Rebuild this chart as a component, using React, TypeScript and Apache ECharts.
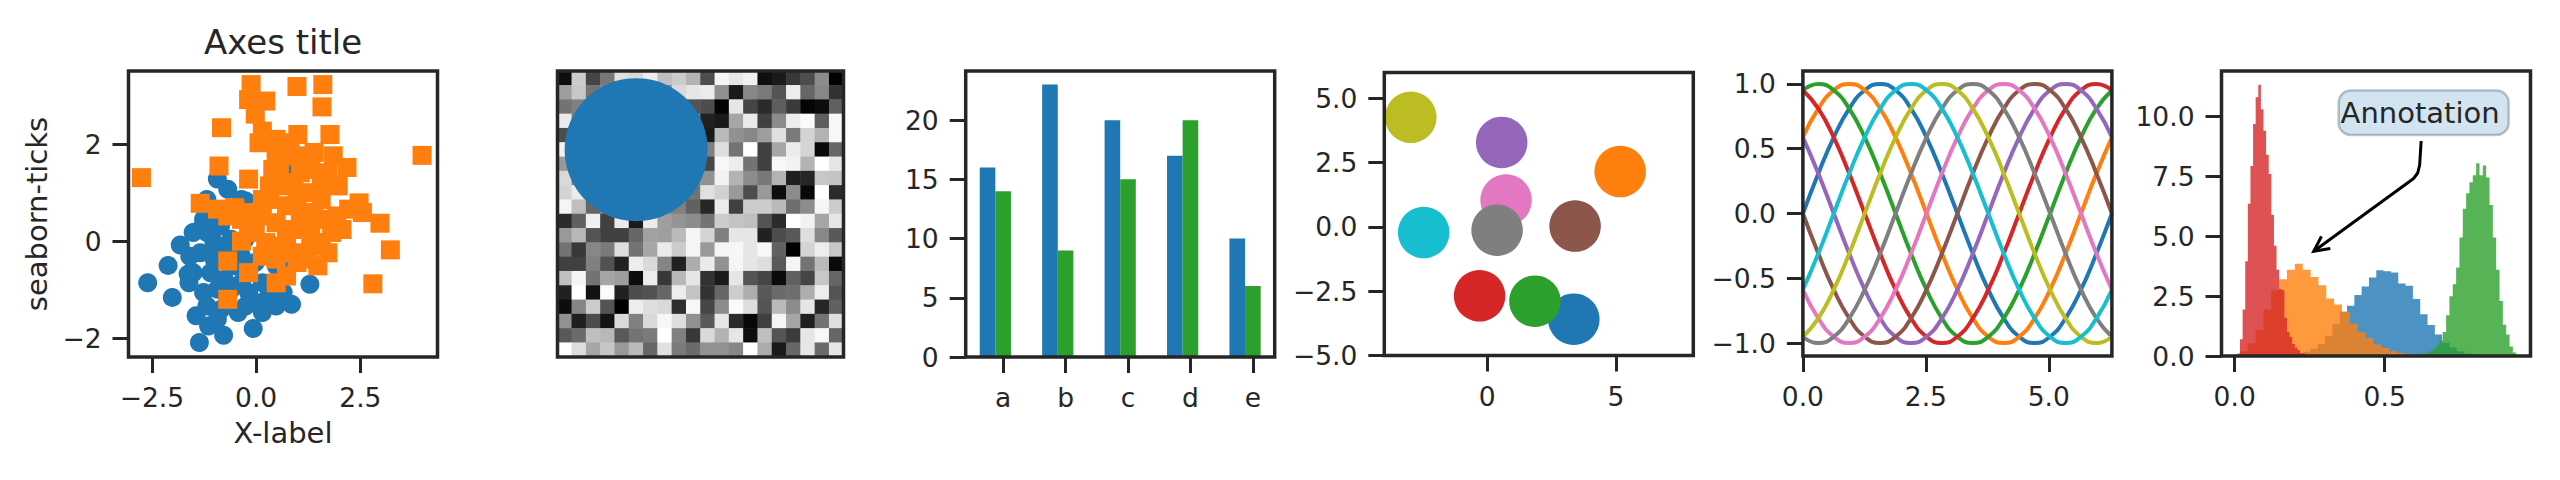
import * as echarts from 'echarts';
import { useEffect, useRef } from 'react';

const FONT = 'DejaVu Sans';
const INK = '#262626';
const TAB10 = ['#1f77b4', '#ff7f0e', '#2ca02c', '#d62728', '#9467bd', '#8c564b', '#e377c2', '#7f7f7f', '#bcbd22', '#17becf'];

// panel 1 - scatter
const blueDots: [number, number][] = [
  [-2.6, -0.85], [-2.11, -0.49], [-2.01, -1.15], [-1.82, -0.07], [-1.61, -0.85], [-1.44, -1.53],
  [-1.36, -2.08], [-1.14, -1.74], [-0.78, -1.93], [-0.07, -1.79], [-1.18, -1.33], [-0.93, 1.29],
  [-0.68, 1.08], [-0.25, 0.84], [-1.26, 0.46], [-1.51, 0.19], [-1.34, -0.23], [-1.01, -0.02],
  [-0.85, 0.32], [0.81, 1.53], [1.29, -0.88], [0.85, -1.29], [0.48, -1.33], [0.07, -1.26],
  [-0.25, -1.33], [-0.68, -1.19], [-0.93, -0.98], [-0.35, -0.85], [0.15, -0.85], [0.65, -1.05],
  [-0.51, -0.5], [-0.02, -0.43], [0.48, -0.5], [-1.51, -0.64], [-1.09, -0.64], [-0.76, -0.23],
  [-0.35, -0.3], [-0.27, 0.05], [-0.02, 0.46], [-0.51, 0.53], [-1.18, 0.87], [-1.63, -0.67],
  [-1.26, -1.05], [-0.85, -1.4], [-0.43, -1.46], [-1.01, -0.36], [-0.6, 0.05], [-0.18, -1.05],
  [0.32, -1.05], [-0.76, -0.78], [-1.18, 0.19], [-1.59, -0.3], [-0.35, 0.87], [-0.93, -1.6],
  [0.15, -1.46], [0.65, -0.57], [-0.18, 0.6], [-0.6, -0.98], [-1.34, 0.25], [-1.01, 0.39],
];
const orangeSquares: [number, number][] = [
  [-0.12, 3.24], [-0.18, 2.93], [0.23, 2.9], [-0.02, 2.63], [0.98, 3.2], [1.6, 3.24], [1.58, 2.78],
  [-0.83, 2.35], [0.15, 2.28], [0.07, 2.04], [1.0, 2.21], [1.77, 2.21], [0.81, 2.04], [3.98, 1.78],
  [-2.75, 1.32], [-0.89, 1.56], [2.18, 1.53], [1.85, 1.77], [1.39, 1.84], [0.48, 1.84], [-0.18, 1.29],
  [0.56, 1.49], [1.72, 1.42], [1.31, 1.49], [0.32, 1.15], [0.9, 1.22], [1.23, 1.01], [1.56, 0.87],
  [2.47, 0.8], [2.22, 0.67], [1.93, 0.53], [1.81, 0.19], [2.97, 0.38], [3.22, -0.17], [2.8, -0.87],
  [-1.34, 0.79], [-0.93, 0.67], [-0.51, 0.7], [-0.27, 0.6], [0.32, 0.87], [0.73, 0.74], [1.06, 0.53],
  [-0.02, 0.32], [0.48, 0.39], [1.31, 0.25], [1.56, -0.02], [-0.35, 0.01], [0.23, -0.02], [0.73, 0.05],
  [-0.68, -0.4], [-0.18, -0.64], [-0.68, -1.19], [0.48, -0.85], [0.73, -0.71], [0.98, -0.43],
  [1.48, -0.5], [1.23, -0.36], [0.48, -0.36], [0.15, -0.3], [0.9, -0.23], [1.14, 0.25], [0.15, 0.87],
  [0.65, 1.15], [1.06, 1.42], [0.4, 1.49], [1.39, 0.6], [0.98, 0.87], [1.64, 0.46], [2.06, 0.25],
  [-0.35, 0.46], [-0.68, 0.53], [0.73, 1.77], [1.14, 1.77], [0.48, 2.11], [1.56, 1.22], [1.97, 1.15],
  [2.55, 0.6], [0.15, 0.53], [-0.18, 0.19], [0.9, 0.25], [1.72, -0.23], [1.31, -0.09], [0.56, -0.09],
];

// panel 2 - grey image, 0 = black .. 1 = white, top row first
const pixels: number[][] = [
  [0.05, 0.8, 0.27, 0.47, 0.88, 0.85, 0.93, 0.75, 0.8, 0.7, 0.3, 0.96, 0.9, 0.94, 0.06, 0.1, 0.22, 0.3, 0.55, 0.0],
  [0.62, 0.78, 0.45, 0.5, 0.5, 0.5, 0.5, 0.5, 0.85, 0.9, 0.92, 0.56, 0.1, 0.53, 0.48, 0.33, 0.93, 0.4, 0.53, 0.2],
  [0.45, 0.5, 0.5, 0.5, 0.5, 0.5, 0.5, 0.5, 0.5, 0.33, 0.3, 0.02, 0.9, 0.27, 0.17, 0.37, 0.23, 0.02, 0.05, 0.38],
  [0.92, 0.5, 0.5, 0.5, 0.5, 0.5, 0.5, 0.5, 0.5, 0.5, 0.13, 0.1, 0.65, 0.92, 0.25, 0.55, 0.93, 0.98, 0.37, 0.97],
  [0.3, 0.5, 0.5, 0.5, 0.5, 0.5, 0.5, 0.5, 0.5, 0.5, 0.1, 0.73, 0.57, 0.53, 0.62, 0.88, 0.48, 0.83, 0.7, 0.97],
  [0.95, 0.5, 0.5, 0.5, 0.5, 0.5, 0.5, 0.5, 0.5, 0.5, 0.5, 0.87, 0.45, 1.0, 0.25, 0.65, 0.92, 0.83, 0.03, 0.4],
  [0.6, 0.5, 0.5, 0.5, 0.5, 0.5, 0.5, 0.5, 0.5, 0.5, 0.28, 0.97, 0.93, 0.45, 0.25, 0.97, 0.95, 0.7, 1.0, 0.9],
  [0.85, 0.5, 0.5, 0.5, 0.5, 0.5, 0.5, 0.5, 0.5, 0.5, 0.57, 0.95, 0.7, 0.55, 0.47, 0.7, 0.12, 0.15, 0.78, 0.77],
  [0.83, 0.92, 0.5, 0.5, 0.5, 0.5, 0.5, 0.5, 0.5, 0.45, 0.88, 0.82, 0.6, 0.3, 0.6, 0.05, 0.55, 0.03, 1.0, 0.17],
  [0.96, 0.75, 0.4, 0.5, 0.5, 0.5, 0.5, 0.5, 0.5, 0.38, 0.15, 0.92, 0.25, 0.8, 0.8, 0.73, 0.43, 0.55, 0.96, 0.8],
  [0.17, 0.38, 0.94, 0.25, 0.92, 0.1, 0.92, 0.62, 0.58, 0.55, 0.45, 0.8, 0.77, 0.75, 0.33, 0.17, 1.0, 0.95, 0.65, 0.9],
  [0.6, 0.72, 0.33, 0.25, 0.25, 0.4, 0.63, 0.62, 0.73, 0.96, 0.83, 0.5, 0.9, 0.9, 0.13, 0.3, 0.35, 0.87, 0.53, 0.35],
  [0.45, 0.22, 0.53, 0.48, 0.87, 0.45, 0.65, 0.92, 0.8, 0.96, 0.6, 0.96, 0.97, 0.9, 0.97, 0.38, 0.0, 0.83, 0.93, 0.78],
  [0.25, 0.25, 0.5, 0.32, 0.13, 0.93, 0.85, 0.52, 0.13, 0.68, 0.92, 0.57, 0.96, 0.9, 0.87, 0.35, 0.96, 0.45, 0.73, 0.04],
  [0.75, 0.96, 0.45, 0.65, 0.62, 0.05, 0.93, 0.22, 0.72, 0.9, 0.2, 0.1, 0.9, 0.33, 0.27, 0.04, 0.38, 0.27, 0.78, 0.4],
  [0.13, 1.0, 0.07, 0.99, 0.13, 0.3, 0.32, 0.4, 0.93, 0.77, 0.2, 0.4, 0.8, 0.68, 0.35, 0.42, 0.43, 0.68, 0.93, 0.33],
  [0.05, 0.52, 0.8, 0.33, 0.0, 0.93, 0.87, 0.85, 0.18, 0.97, 0.28, 0.55, 0.98, 0.87, 0.33, 0.73, 0.55, 0.9, 0.15, 0.38],
  [0.57, 0.12, 0.3, 0.07, 0.85, 0.5, 0.85, 0.97, 0.87, 0.57, 0.35, 0.9, 0.17, 0.03, 0.25, 0.96, 0.65, 0.12, 0.45, 0.88],
  [0.35, 0.42, 0.75, 0.72, 0.35, 0.45, 0.48, 1.0, 0.5, 0.22, 0.85, 0.7, 0.9, 0.05, 0.75, 0.33, 0.23, 0.9, 0.97, 0.4],
  [1.0, 0.87, 0.65, 0.78, 0.6, 0.73, 0.4, 0.88, 0.48, 0.42, 0.57, 0.57, 0.53, 1.0, 0.67, 0.1, 0.4, 0.9, 0.42, 0.9],
];
const imageCircle = [5, 5];
const imageCircleRadius = 5;

// panel 3 - grouped bars
const barLabels = ['a', 'b', 'c', 'd', 'e'];
const barPos = [0, 1, 2, 3, 4];
const barWidthUnits = 0.25;
const barsBlue = [16, 23, 20, 17, 10];
const barsGreen = [14, 9, 15, 20, 6];

// panel 4 - coloured discs (radius 1), colour-cycle order
const discCenters: [number, number][] = [
  [3.36, -3.59], [5.16, 2.15], [1.85, -2.89], [-0.3, -2.68], [0.56, 3.28],
  [3.41, 0.03], [0.73, 1.04], [0.38, -0.13], [-2.97, 4.26], [-2.47, -0.22],
];
const discRadius = 1;

// panel 5 - shifted sines
const sineX = [0, 0.314, 0.628, 0.942, 1.257, 1.571, 1.885, 2.199, 2.513, 2.827, 3.142,
  3.456, 3.77, 4.084, 4.398, 4.712, 5.027, 5.341, 5.655, 5.969, 6.283];
const sineY: number[][] = [
  [0, .309, .588, .809, .951, 1, .951, .809, .588, .309, 0, -.309, -.588, -.809, -.951, -1, -.951, -.809, -.588, -.309, 0],
  [.588, .809, .951, 1, .951, .809, .588, .309, 0, -.309, -.588, -.809, -.951, -1, -.951, -.809, -.588, -.309, 0, .309, .588],
  [.951, 1, .951, .809, .588, .309, 0, -.309, -.588, -.809, -.951, -1, -.951, -.809, -.588, -.309, 0, .309, .588, .809, .951],
  [.951, .809, .588, .309, 0, -.309, -.588, -.809, -.951, -1, -.951, -.809, -.588, -.309, 0, .309, .588, .809, .951, 1, .951],
  [.588, .309, 0, -.309, -.588, -.809, -.951, -1, -.951, -.809, -.588, -.309, 0, .309, .588, .809, .951, 1, .951, .809, .588],
  [0, -.309, -.588, -.809, -.951, -1, -.951, -.809, -.588, -.309, 0, .309, .588, .809, .951, 1, .951, .809, .588, .309, 0],
  [-.588, -.809, -.951, -1, -.951, -.809, -.588, -.309, 0, .309, .588, .809, .951, 1, .951, .809, .588, .309, 0, -.309, -.588],
  [-.951, -1, -.951, -.809, -.588, -.309, 0, .309, .588, .809, .951, 1, .951, .809, .588, .309, 0, -.309, -.588, -.809, -.951],
  [-.951, -.809, -.588, -.309, 0, .309, .588, .809, .951, 1, .951, .809, .588, .309, 0, -.309, -.588, -.809, -.951, -1, -.951],
  [-.588, -.309, 0, .309, .588, .809, .951, 1, .951, .809, .588, .309, 0, -.309, -.588, -.809, -.951, -1, -.951, -.809, -.588],
];

// panel 6 - histograms (density), drawn in this order: blue, orange, green, red
const histStart = [0.1304, 0.0171, 0.6045, 0.0003];
const histBin = [0.0244, 0.0262, 0.01113, 0.0087];
const histBlue = [0.01, 0.02, 0.05, 0.1, 0.18, 0.3, 0.5, 0.85, 1.35, 1.85, 2.1, 2.55, 2.9, 3.28, 3.58,
  3.54, 3.49, 3.03, 2.93, 2.38, 1.74, 1.29, 0.9, 0.55, 0.35, 0.2, 0.1, 0.06, 0.03, 0.01];
const histOrange = [0.2, 0.53, 1.1, 1.94, 2.75, 3.2, 3.6, 3.85, 3.6, 3.3, 2.95, 2.4, 2.15, 1.85, 1.35,
  1.0, 0.75, 0.48, 0.33, 0.2, 0.13, 0.08, 0.05, 0.03, 0.02, 0.01, 0.01, 0.005, 0.003, 0.003];
const histGreen = [0.03, 0.05, 0.1, 0.15, 0.2, 0.3, 0.45, 0.65, 1.0, 1.7, 2.5, 3.0, 3.7, 4.95, 6.15,
  6.8, 7.25, 7.55, 8.05, 7.55, 7.95, 7.45, 6.3, 4.95, 3.6, 2.3, 1.3, 0.9, 0.4, 0.15];
const histRed = [0.02, 0.1, 0.7, 1.94, 3.96, 6.36, 7.93, 9.69, 10.8, 11.33, 10.3, 9.4, 8.4, 7.6, 5.9,
  4.6, 3.6, 2.8, 2.75, 1.6, 1.0, 0.8, 0.5, 0.35, 0.25, 0.12, 0.1, 0.06, 0.03, 0.01];
const histColors = [TAB10[0], TAB10[1], TAB10[2], TAB10[3]];
const annotationXY = [0.25, 4.25];

// layout (px)
const grids = [
  { left: 128.5, top: 71, width: 309, height: 286 },
  { left: 557.5, top: 71, width: 286, height: 286 },
  { left: 965.7, top: 71, width: 309, height: 286 },
  { left: 1384.3, top: 72.5, width: 309, height: 283 },
  { left: 1802.9, top: 71, width: 309, height: 285 },
  { left: 2221.5, top: 71, width: 309, height: 285 },
];

const fmt = (d: number) => (v: number) => v.toFixed(d).replace('-', '\u2212');

function valueAxis(gridIndex: number, min: number, max: number, ticks: number[], formatter: any, extra: any = {}) {
  return {
    type: 'value',
    gridIndex,
    min,
    max,
    z: 5,
    axisLine: { show: false, onZero: false },
    splitLine: { show: false },
    axisTick: { show: true, length: 16, customValues: ticks, lineStyle: { color: INK, width: 3 } },
    axisLabel: { customValues: ticks, formatter, color: INK, fontSize: 26.5, fontFamily: FONT, margin: 27 },
    ...extra,
  };
}

function hiddenCategory(gridIndex: number, n: number, extra: any = {}) {
  return {
    type: 'category',
    gridIndex,
    data: Array.from({ length: n }, (_, i) => String(i)),
    axisLine: { show: false, onZero: false },
    axisTick: { show: false },
    axisLabel: { show: false },
    splitLine: { show: false },
    ...extra,
  };
}

function histPoints(start: number, bin: number, heights: number[]) {
  const pts = heights.map((h, i) => [start + i * bin, h]);
  pts.push([start + heights.length * bin, 0]);
  return pts;
}

export default function App() {
  const ref = useRef<HTMLDivElement | null>(null);

  useEffect(() => {
    document.body.style.margin = '0';
    if (!ref.current) return;
    const chart = echarts.init(ref.current, null, { renderer: 'svg' });

    const nameStyle = { color: INK, fontSize: 29, fontFamily: FONT };
    const xAxis = [
      valueAxis(0, -3.06, 4.35, [-2.5, 0, 2.5], fmt(1), {
        name: 'X-label', nameLocation: 'middle', nameGap: 61, nameTextStyle: nameStyle,
      }),
      hiddenCategory(1, 20),
      valueAxis(2, -0.35, 4.6, barPos.map((x) => x + barWidthUnits),
        (v: number) => barLabels[Math.round(v - barWidthUnits)] ?? ''),
      valueAxis(3, -4, 8, [0, 5], fmt(0)),
      valueAxis(4, 0, 6.2832, [0, 2.5, 5], fmt(1)),
      valueAxis(5, -0.044, 0.986, [0, 0.5], fmt(1)),
    ];
    const yAxis = [
      valueAxis(0, -2.38, 3.52, [-2, 0, 2], fmt(0), {
        name: 'seaborn-ticks', nameLocation: 'middle', nameGap: 77, nameRotate: 90, nameTextStyle: nameStyle,
      }),
      hiddenCategory(1, 20, { inverse: true }),
      valueAxis(2, 0, 24.15, [0, 5, 10, 15, 20], fmt(0)),
      valueAxis(3, -5, 6, [-5, -2.5, 0, 2.5, 5], fmt(1)),
      valueAxis(4, -1.1, 1.1, [-1, -0.5, 0, 0.5, 1], fmt(1)),
      valueAxis(5, 0, 11.9, [0, 2.5, 5, 7.5, 10], fmt(1)),
    ];

    const discSize = (grids[3].width / 12) * 2 * discRadius;
    const imageCircleSize = (grids[1].width / pixels[0].length) * 2 * imageCircleRadius;
    const barPx = (barWidthUnits * grids[2].width) / 4.95;

    const series: any[] = [
      {
        type: 'scatter', xAxisIndex: 0, yAxisIndex: 0, data: blueDots, symbol: 'circle', symbolSize: 19,
        itemStyle: { color: TAB10[0], opacity: 1 }, emphasis: { disabled: true },
      },
      {
        type: 'scatter', xAxisIndex: 0, yAxisIndex: 0, data: orangeSquares, symbol: 'rect', symbolSize: 19,
        itemStyle: { color: TAB10[1], opacity: 1 }, emphasis: { disabled: true },
      },
      {
        type: 'heatmap', xAxisIndex: 1, yAxisIndex: 1,
        data: pixels.flatMap((row, r) => row.map((v, c) => [c, r, v])),
        itemStyle: { borderWidth: 0 }, emphasis: { disabled: true }, progressive: 0,
      },
      {
        type: 'scatter', xAxisIndex: 1, yAxisIndex: 1, data: [imageCircle], symbolSize: imageCircleSize,
        itemStyle: { color: TAB10[0], opacity: 1 }, emphasis: { disabled: true }, z: 3,
      },
      {
        type: 'bar', xAxisIndex: 2, yAxisIndex: 2, barWidth: barPx, barGap: '-100%',
        data: barPos.map((x, i) => [x, barsBlue[i]]), itemStyle: { color: TAB10[0] },
        emphasis: { disabled: true },
      },
      {
        type: 'bar', xAxisIndex: 2, yAxisIndex: 2, barWidth: barPx, barGap: '-100%',
        data: barPos.map((x, i) => [x + barWidthUnits, barsGreen[i]]), itemStyle: { color: TAB10[2] },
        emphasis: { disabled: true },
      },
      {
        type: 'scatter', xAxisIndex: 3, yAxisIndex: 3, symbol: 'circle', symbolSize: discSize,
        data: discCenters.map((c, i) => ({ value: c, itemStyle: { color: TAB10[i], opacity: 1 } })),
        emphasis: { disabled: true },
      },
      ...sineY.map((ys, i) => ({
        type: 'line', xAxisIndex: 4, yAxisIndex: 4, smooth: true, symbol: 'none',
        data: sineX.map((x, k) => [x, ys[k]]),
        lineStyle: { color: TAB10[i], width: 4 }, emphasis: { disabled: true },
      })),
      ...[histBlue, histOrange, histGreen, histRed].map((h, i) => ({
        type: 'line', xAxisIndex: 5, yAxisIndex: 5, step: 'end', symbol: 'none',
        data: histPoints(histStart[i], histBin[i], h),
        lineStyle: { width: 0, opacity: 0 },
        areaStyle: { color: histColors[i], opacity: 0.8 },
        emphasis: { disabled: true },
      })),
    ];

    chart.setOption({
      animation: false,
      grid: grids.map((g) => ({ ...g, containLabel: false, outerBoundsMode: 'none' })),
      xAxis,
      yAxis,
      visualMap: {
        type: 'continuous', show: false, min: 0, max: 1, seriesIndex: 2,
        inRange: { color: ['#000000', '#ffffff'] },
      },
      series,
    });

    // frames, title and annotation
    const frames = grids.map((g) => ({
      type: 'rect', silent: true, z: 100,
      shape: { x: g.left, y: g.top, width: g.width, height: g.height },
      style: { fill: 'none', stroke: INK, lineWidth: 3.5 },
    }));
    const g0 = grids[0];
    const g5 = grids[5];
    const anchorX = g5.left + 0.9 * g5.width;
    const anchorY = g5.top + 0.1 * g5.height;
    const box = { x: 2338.7, y: anchorY - 9, width: anchorX + 9 - 2338.7, height: 44.5 };
    const cx = box.x + box.width / 2 - 2.5;
    const by = box.y + box.height;
    const tipRaw = chart.convertToPixel({ gridIndex: 5 }, annotationXY) as number[];
    const corner = [cx - 13, by + 47.5];
    const dx = tipRaw[0] - corner[0];
    const dy = tipRaw[1] - corner[1];
    const len = Math.hypot(dx, dy);
    const ux = dx / len;
    const uy = dy / len;
    const tip = [tipRaw[0] - ux * 5, tipRaw[1] - uy * 5];
    const headL = 15;
    const headW = 7.5;
    const arm1 = [tip[0] - ux * headL - uy * headW, tip[1] - uy * headL + ux * headW];
    const arm2 = [tip[0] - ux * headL + uy * headW, tip[1] - uy * headL - ux * headW];

    chart.setOption({
      graphic: [
        ...frames,
        {
          type: 'text', silent: true, x: g0.left + g0.width / 2, y: 42,
          style: {
            text: 'Axes title', fontSize: 34, fontFamily: FONT, fill: INK,
            align: 'center', verticalAlign: 'middle', textAlign: 'center', textVerticalAlign: 'middle',
          },
        },
        {
          type: 'rect', silent: true, z: 50,
          shape: { ...box, r: 12 },
          style: { fill: 'rgba(31,119,180,0.2)', stroke: 'rgba(70,90,105,0.35)', lineWidth: 2.5 },
        },
        {
          type: 'text', silent: true, z: 51, x: anchorX, y: box.y + box.height / 2,
          style: {
            text: 'Annotation', fontSize: 29, fontFamily: FONT, fill: INK,
            align: 'right', verticalAlign: 'middle', textAlign: 'right', textVerticalAlign: 'middle',
          },
        },
        {
          type: 'polyline', silent: true, z: 52,
          shape: {
            points: [
              [cx, by + 6], [cx - 1.5, by + 30], [cx - 3.5, by + 38], [cx - 7.5, by + 43.5], corner, tip,
            ],
          },
          style: { stroke: '#000', lineWidth: 3, fill: 'none' },
        },
        {
          type: 'polyline', silent: true, z: 52,
          shape: { points: [arm1, tip, arm2] },
          style: { stroke: '#000', lineWidth: 3, fill: 'none' },
        },
      ],
    });

    return () => {
      chart.dispose();
    };
  }, []);

  return <div ref={ref} style={{ width: 2560, height: 480 }} />;
}
